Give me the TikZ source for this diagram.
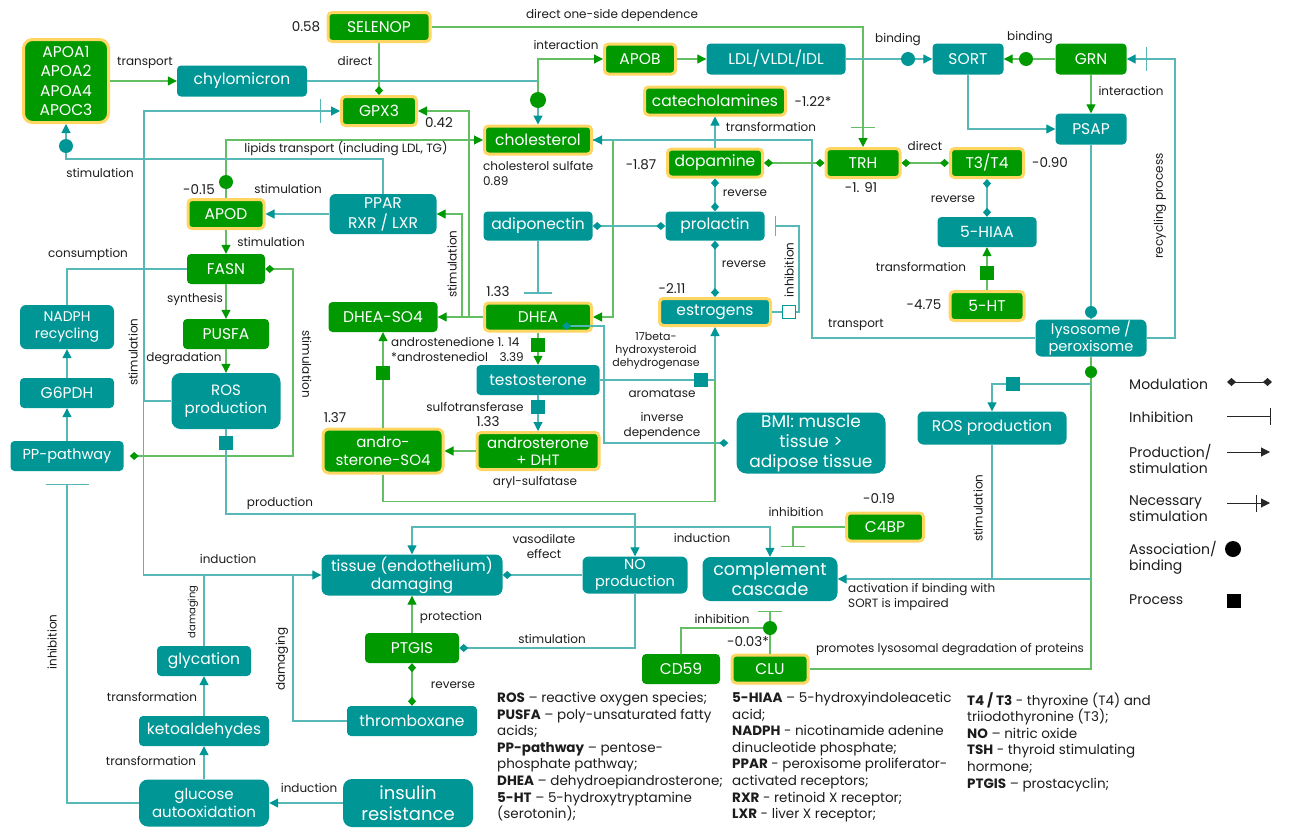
\documentclass[tikz,border=0pt]{standalone}
\usepackage{fontspec}
\setmainfont{Poppins}
\usetikzlibrary{arrows.meta}

\definecolor{tealF}{RGB}{0,150,150}
\definecolor{greenF}{RGB}{0,153,0}
\definecolor{tealL}{RGB}{88,184,184}
\definecolor{greenL}{RGB}{100,190,100}
\definecolor{yell}{RGB}{255,214,98}
\definecolor{txt}{RGB}{28,28,28}

\tikzstyle{box}=[rectangle,rounded corners=4pt,inner sep=0pt,text=white,align=center,font=\fontsize{15.5}{18.5}\selectfont]
\tikzstyle{tbox}=[box,fill=tealF]
\tikzstyle{gbox}=[box,fill=greenF]
\tikzstyle{ybox}=[gbox,draw=yell,line width=3pt]
\tikzstyle{ytbox}=[tbox,draw=yell,line width=3pt]
\tikzstyle{lab}=[text=txt,inner sep=0pt,align=center,font=\fontsize{12}{15}\selectfont]
\tikzstyle{num}=[text=txt,inner sep=0pt,font=\fontsize{13.5}{15}\selectfont]
\tikzstyle{leg}=[text=txt,inner sep=0pt,anchor=west,align=left,font=\fontsize{14}{16}\selectfont]
\tikzstyle{abbr}=[text=txt,inner sep=0pt,anchor=north west,align=left,font=\fontsize{13.5}{16.6}\selectfont]
\tikzstyle{tl}=[draw=tealL,line width=1.2pt]
\tikzstyle{gl}=[draw=greenL,line width=1.2pt]
\tikzstyle{blk}=[draw=black!85,line width=1pt]
\tikzstyle{ta}=[tl,-{Triangle[length=9pt,width=9pt,color=tealF]}]
\tikzstyle{ga}=[gl,-{Triangle[length=9pt,width=9pt,color=greenF]}]
\tikzstyle{tta}=[tl,{Triangle[length=9pt,width=9pt,color=tealF]}-{Triangle[length=9pt,width=9pt,color=tealF]}]
\tikzstyle{tdia}=[tl,-{Turned Square[length=9pt,width=8pt,color=tealF]}]
\tikzstyle{gdia}=[gl,-{Turned Square[length=9pt,width=8pt,color=greenF]}]
\tikzstyle{tdd}=[tl,{Turned Square[length=9pt,width=8pt,color=tealF]}-{Turned Square[length=9pt,width=8pt,color=tealF]}]
\tikzstyle{gdd}=[gl,{Turned Square[length=9pt,width=8pt,color=greenF]}-{Turned Square[length=9pt,width=8pt,color=greenF]}]
\tikzstyle{tnec}=[tl,-{Bar[width=24pt,sep=10pt]Triangle[length=9pt,width=9pt,color=tealF]}]
\tikzstyle{gnec}=[gl,-{Bar[width=24pt,sep=10pt]Triangle[length=9pt,width=9pt,color=greenF]}]
\tikzstyle{tinh}=[tl,-{Bar[width=28pt]},shorten >=8pt]
\tikzstyle{ginh}=[gl,-{Bar[width=24pt]},shorten >=10pt]
\tikzset{wh/.style 2 args={minimum width=#1,minimum height=#2}}

\begin{document}
\begin{tikzpicture}[x=1pt,y=-1pt]
\useasboundingbox (0,0) rectangle (1289,827);

\node[ybox,wh={85}{83},rounded corners=9pt,font=\fontsize{15.5}{19.3}\selectfont] (apoa) at (66,81) {APOA1\\APOA2\\APOA4\\APOC3};
\node[tbox,wh={130}{31}] (chylo) at (242,81) {chylomicron};
\node[ybox,wh={102}{29}] (selenop) at (379,27) {SELENOP};
\node[ybox,wh={75}{29}] (gpx3) at (379,111) {GPX3};
\node[ybox,wh={107}{28}] (chol) at (538,140) {cholesterol};
\node[ybox,wh={71}{30}] (apob) at (640,59) {APOB};
\node[tbox,wh={139}{31}] (ldl) at (776,59) {LDL/VLDL/IDL};
\node[tbox,wh={71}{31}] (sort) at (968,59) {SORT};
\node[gbox,wh={71}{31}] (grn) at (1091,59) {GRN};
\node[tbox,wh={71}{31}] (psap) at (1091,129) {PSAP};
\node[ybox,wh={141}{28}] (catechol) at (715,101) {catecholamines};
\node[ybox,wh={95}{28}] (dopa) at (715,163) {dopamine};
\node[ybox,wh={74}{29}] (trh) at (863,163) {TRH};
\node[ybox,wh={73}{29}] (t3t4) at (987,163) {T3/T4};
\node[tbox,wh={99}{30}] (hiaa) at (987,232) {5-HIAA};
\node[ybox,wh={74}{29}] (ht5) at (987,306) {5-HT};
\node[tbox,wh={99}{29}] (prol) at (715,226) {prolactin};
\node[ytbox,wh={111}{27}] (estro) at (715,312) {estrogens};
\node[tbox,wh={109}{29}] (adipo) at (538,226) {adiponectin};
\node[ybox,wh={107}{28}] (dhea) at (538,317) {DHEA};
\node[gbox,wh={109}{30}] (dheaso4) at (383,317) {DHEA-SO4};
\node[tbox,wh={123}{30}] (testo) at (538,380) {testosterone};
\node[ybox,wh={122}{37},font=\fontsize{15}{17}\selectfont] (adht) at (538,451) {androsterone\\+ DHT};
\node[ybox,wh={120}{44},rounded corners=6pt,font=\fontsize{15}{17.5}\selectfont] (aso4) at (383,451) {andro-\\sterone-SO4};
\node[tbox,wh={107}{40},rounded corners=6pt,font=\fontsize{15.5}{20}\selectfont] (ppar) at (383,214) {PPAR\\RXR / LXR};
\node[ybox,wh={76}{29}] (apod) at (226,214) {APOD};
\node[gbox,wh={78}{30}] (fasn) at (226,269) {FASN};
\node[gbox,wh={86}{30}] (pusfa) at (226,334) {PUSFA};
\node[tbox,wh={109}{56},rounded corners=9pt,font=\fontsize{15}{17.5}\selectfont] (rosL) at (226,401) {ROS\\production};
\node[tbox,wh={94}{44},rounded corners=6pt,font=\fontsize{14}{17}\selectfont] (nadph) at (67,327) {NADPH\\recycling};
\node[tbox,wh={94}{30}] (g6pdh) at (67,393) {G6PDH};
\node[tbox,wh={113}{30},font=\fontsize{14.5}{17}\selectfont] (pp) at (67,456) {PP-pathway};
\node[tbox,wh={111}{37},rounded corners=6pt,font=\fontsize{14.5}{17.5}\selectfont] (lyso) at (1091,338) {lysosome /\\peroxisome};
\node[tbox,wh={149}{33},rounded corners=6pt] (rosR) at (992,428) {ROS production};
\node[tbox,wh={149}{61},rounded corners=10pt,font=\fontsize{17}{20}\selectfont] (bmi) at (811,443) {BMI: muscle\\tissue >\\adipose tissue};
\node[ybox,wh={77}{28}] (c4bp) at (885,527) {C4BP};
\node[tbox,wh={135}{44},rounded corners=8pt,font=\fontsize{17.5}{20.5}\selectfont] (compl) at (770,579) {complement\\cascade};
\node[tbox,wh={105}{37},rounded corners=6pt,font=\fontsize{14.5}{17}\selectfont] (nopr) at (635,575) {NO\\production};
\node[tbox,wh={181}{41},rounded corners=7pt,font=\fontsize{15.5}{18}\selectfont] (tissue) at (412,575) {tissue (endothelium)\\damaging};
\node[gbox,wh={94}{30}] (ptgis) at (412,648) {PTGIS};
\node[tbox,wh={130}{30}] (thromb) at (412,721) {thromboxane};
\node[ybox,wh={76}{28}] (clu) at (770,669) {CLU};
\node[gbox,wh={78}{30}] (cd59) at (681,669) {CD59};
\node[tbox,wh={94}{30}] (glyc) at (204,661) {glycation};
\node[tbox,wh={130}{30}] (keto) at (204,731) {ketoaldehydes};
\node[tbox,wh={130}{47},rounded corners=9pt,font=\fontsize{15}{17.5}\selectfont] (gluc) at (204,803) {glucose\\autooxidation};
\node[tbox,wh={130}{48},rounded corners=9pt,font=\fontsize{18}{21}\selectfont] (insul) at (408,803) {insulin\\resistance};

\coordinate (dApoa) at (66,146);
\coordinate (dChol) at (538,100);
\coordinate (dApod) at (226,182);
\coordinate (dLdl) at (908,59);
\coordinate (dGrn) at (1026,59);
\coordinate (dPsap) at (1091,312);
\coordinate (dLyso) at (1091,372);
\coordinate (dClu) at (770,628);
\coordinate (jLyso) at (1091,384);
\coordinate (jCompl) at (1091,579);

\draw[ga] (apoa) -- (chylo);
\draw[ta] (chylo.east) -| (chol.north);
\draw[ga] (dChol) |- (apob.west);
\draw[gdia] (selenop) -- (gpx3);
\draw[gnec] (selenop.east) -| (trh.north);
\draw[tnec] (rosL.west) -| (144,111) -- (gpx3.west);
\draw[ta] ([xshift=-28pt]rosL.west) |- (tissue.west);
\draw[ga] (dhea.west) -| (469,111) -- (gpx3.east);
\draw[ga] (dhea.west) -| (462,214) -- (ppar.east);
\draw[ga] (dhea) -- (dheaso4);
\draw[ga] (chol.east) -| (613,317) -- (dhea.east);
\draw[ga] (apod.north) |- (chol.west);
\draw[ta] (ppar.north) |- (66,159) -- (apoa.south);
\draw[ta] (ppar) -- (apod);
\draw[ga] (apod) -- (fasn);
\draw[tl] (fasn.west) -| (nadph.north);
\draw[gdd,shorten >=6pt] (fasn.east) -| (293,456) -- (pp.east);
\draw[ga] (fasn) -- (pusfa);
\draw[ga] (pusfa) -- (rosL);
\draw[ta] (rosL.south) |- (635,514) -- (nopr.north);
\draw[ta] (g6pdh) -- (nadph);
\draw[ta] (pp) -- (g6pdh);
\draw[tl,-{Bar[width=43pt]},shorten >=13pt] (gluc.west) -| (pp.south);
\draw[ta] (gluc) -- (keto);
\draw[ta] (keto) -- (glyc);
\draw[tl] (glyc.north) -- (glyc.north |- tissue.west);
\draw[ta] (insul) -- (gluc);
\draw[tl] (thromb.west) -| (293,575);
\draw[tta] (tissue.north) |- (770,527) -- (compl.north);
\draw[tdia] (nopr) -- (tissue);
\draw[tdia] (nopr.south) |- (ptgis.east);
\draw[ga] (ptgis) -- (tissue);
\draw[gdd] (ptgis) -- (thromb);
\draw[ginh] (c4bp.west) -| ([xshift=23pt]compl.north);
\draw[ginh] (clu) -- (compl);
\draw[gl] (cd59.north) |- (dClu);
\draw[gl] (clu.east) -| (lyso.south);
\draw[ta] (jLyso) -| (rosR.north);
\draw[ta] (rosR.south) |- (compl.east);
\draw[tl] (jCompl) -- (rosR.south |- jCompl);
\draw[ta] (lyso.west) -| (812,140) -- (chol.east);
\draw[tnec] (lyso.east) -| (1175,59) -- (grn.east);
\draw[tl] (psap) -- (lyso);
\draw[ta] (sort.south) |- (psap.west);
\draw[ga] (grn) -- (psap);
\draw[ga] (grn) -- (sort);
\draw[ta] (ldl) -- (sort);
\draw[ga] (apob) -- (ldl);
\draw[ta] (dopa) -- (catechol);
\draw[gdd] (dopa) -- (trh);
\draw[gdd] (trh) -- (t3t4);
\draw[tdd] (t3t4) -- (hiaa);
\draw[ga] (ht5) -- (hiaa);
\draw[tdd] (dopa) -- (prol);
\draw[tdd] (prol) -- (estro);
\draw[tl,{Bar[width=20pt]}-,shorten <=10pt] (prol.east) -| (799,312) -- (estro.east);
\draw[tdd] (adipo) -- (prol);
\draw[tinh] (adipo) -- (dhea);
\draw[ga] (dhea) -- (testo);
\draw[tdd,shorten >=8pt] ([xshift=24pt,yshift=-9pt]dhea.center) -| (604,443) -- (bmi.west);
\draw[ta] (testo.east) -| (estro.south);
\draw[ta] (testo) -- (adht);
\draw[ga] (adht) -- (aso4);
\draw[ga] (aso4) -- (dheaso4);
\draw[gl] (aso4.south) |- ++(332,27) -- ++(0,-122);

\fill[tealF] (dApoa) circle[radius=7pt];
\fill[greenF] (dChol) circle[radius=8pt];
\fill[greenF] (dApod) circle[radius=7pt];
\fill[tealF] (dLdl) circle[radius=7pt];
\fill[greenF] (dGrn) circle[radius=7pt];
\fill[tealF] (dPsap) circle[radius=6pt];
\fill[greenF] (dLyso) circle[radius=6pt];
\fill[greenF] (dClu) circle[radius=7pt];
\fill[greenF] (531,338) rectangle (545,352);
\fill[tealF] (531,400) rectangle (545,414);
\fill[tealF] (694,373) rectangle (708,387);
\fill[greenF] (376,366) rectangle (390,380);
\fill[tealF] (219,436) rectangle (233,450);
\fill[greenF] (980,266) rectangle (994,280);
\fill[tealF] (1006,377) rectangle (1020,391);
\filldraw[fill=white,draw=tealF,line width=1.5pt] (782.5,305.5) rectangle (795.5,318.5);

\node[num] (vSelenop) at (306,27) {0.58};
\node[lab] (lTransport) at (145,63) {transport};
\node[lab] (lDirect) at (355,61) {direct};
\node[lab] (lOneSide) at (612,15) {direct one-side dependence};
\node[lab] (lInter) at (566,45) {interaction};
\node[lab] (lBind1) at (898,40) {binding};
\node[lab] (lBind2) at (1030,38) {binding};
\node[lab] (lInter2) at (1131,91) {interaction};
\node[num] (vGpx) at (439,123) {0.42};
\node[num] (vCat) at (813,102) {-1.22*};
\node[lab] (lTrans1) at (771,127) {transformation};
\node[lab] (lLipids) at (346,149) {lipids transport (including LDL, TG)};
\node[lab,anchor=north west,align=left,font=\fontsize{12}{15.5}\selectfont] (lCholS) at (483,161) {cholesterol sulfate\\0.89};
\node[lab] (lStimA) at (100,173) {stimulation};
\node[num] (vDopa) at (641,165) {-1.87};
\node[num] (vTrh) at (861,188) {-1. 91};
\node[lab] (lDirect2) at (925,146) {direct};
\node[num] (vT3) at (1050,163) {-0.90};
\node[num] (vApod) at (199,190) {-0.15};
\node[lab] (lStimB) at (288,189) {stimulation};
\node[lab] (lStimC) at (271,242) {stimulation};
\node[lab] (lCons) at (88,254) {consumption};
\node[lab] (lRev1) at (745,193) {reverse};
\node[lab] (lRev2) at (744,264) {reverse};
\node[lab] (lRev3) at (953,199) {reverse};
\node[lab] (lTrans2) at (921,267) {transformation};
\node[num] (vHt) at (924,305) {-4.75};
\node[lab] (lTransp) at (856,325) {transport};
\node[lab,rotate=90] (lRecyc) at (1160,206) {recycling process};
\node[lab,rotate=90] (lStimD) at (452,264) {stimulation};
\node[lab,rotate=90] (lInhProl) at (789,270) {inhibition};
\node[num] (vDhea) at (498,292) {1.33};
\node[num] (vEstro) at (672,289) {-2.11};
\node[lab] (lSynth) at (195,299) {synthesis};
\node[lab] (lDegr) at (184,359) {degradation};
\node[lab,rotate=90] (lStimE) at (133,352) {stimulation};
\node[lab,rotate=-90] (lStimF) at (307,364) {stimulation};
\node[lab,anchor=west] (lAndro1) at (391,342) {androstenedione 1. 14};
\node[lab,anchor=west] (lAndro2) at (391,357) {*androstenediol};
\node[lab,anchor=east] (vAndro) at (524,357) {3.39};
\node[lab,font=\fontsize{11}{12.8}\selectfont] (l17b) at (656,351) {17beta-\\hydroxysteroid\\dehydrogenase};
\node[lab] (lArom) at (662,393) {aromatase};
\node[lab] (lInv) at (662,426) {inverse\\dependence};
\node[lab] (lSulfo) at (475,407) {sulfotransferase};
\node[num] (vAdht) at (488,422) {1.33};
\node[num] (vAso4) at (335,418) {1.37};
\node[lab] (lAryl) at (535,482) {aryl-sulfatase};
\node[lab] (lProd) at (280,503) {production};
\node[num] (vC4bp) at (879,499) {-0.19};
\node[lab] (lInhC4) at (796,512) {inhibition};
\node[lab,rotate=90] (lStimG) at (978,508) {stimulation};
\node[lab] (lVaso) at (544,546) {vasodilate\\effect};
\node[lab] (lInd1) at (702,538) {induction};
\node[lab] (lInd2) at (228,559) {induction};
\node[lab,anchor=north west,align=left] (lAct) at (848,583) {activation if binding with\\SORT is impaired};
\node[lab] (lProt) at (451,617) {protection};
\node[lab] (lStimH) at (552,639) {stimulation};
\node[lab] (lInhCd) at (722,619) {inhibition};
\node[num] (vClu) at (748,642) {-0.03*};
\node[lab] (lProm) at (950,650) {promotes lysosomal degradation of proteins};
\node[lab,rotate=90,font=\fontsize{10}{12}\selectfont] (lDam1) at (193,612) {damaging};
\node[lab,rotate=90] (lDam2) at (282,659) {damaging};
\node[lab] (lRev4) at (453,685) {reverse};
\node[lab,rotate=90] (lInhPP) at (52,642) {inhibition};
\node[lab] (lTrans3) at (152,697) {transformation};
\node[lab] (lTrans4) at (151,761) {transformation};
\node[lab] (lInd3) at (309,788) {induction};

\node[leg] (gMod) at (1129,384) {Modulation};
\node[leg] (gInh) at (1129,417) {Inhibition};
\node[leg] (gProd) at (1129,459) {Production/\\stimulation};
\node[leg] (gNec) at (1129,509) {Necessary\\stimulation};
\node[leg] (gAss) at (1129,558) {Association/\\binding};
\node[leg] (gProc) at (1129,600) {Process};
\draw[blk,{Turned Square[length=9pt,width=8pt]}-{Turned Square[length=9pt,width=8pt]}] (1227,382) -- (1272,382);
\draw[blk,-{Bar[width=17pt]}] (1227,416) -- (1271,416);
\draw[blk,-{Triangle[length=9pt,width=9pt]}] (1227,452) -- (1270,452);
\draw[blk,-{Bar[width=17pt,sep=4pt]Triangle[length=9pt,width=9pt]}] (1227,503) -- (1270,503);
\fill[black] (1233,549) circle[radius=8pt];
\fill[black] (1227,594) rectangle (1241,608);

\node[abbr] (abbrA) at (497,692) {\textbf{ROS} – reactive oxygen species;\\\textbf{PUSFA} – poly-unsaturated fatty\\acids;\\\textbf{PP-pathway} – pentose-\\phosphate pathway;\\\textbf{DHEA} – dehydroepiandrosterone;\\\textbf{5-HT} – 5-hydroxytryptamine\\(serotonin);};
\node[abbr] (abbrB) at (732,692) {\textbf{5-HIAA} – 5-hydroxyindoleacetic\\acid;\\\textbf{NADPH} - nicotinamide adenine\\dinucleotide phosphate;\\\textbf{PPAR} - peroxisome proliferator-\\activated receptors;\\\textbf{RXR} - retinoid X receptor;\\\textbf{LXR} - liver X receptor;};
\node[abbr] (abbrC) at (967,692) {\textbf{T4 / T3} - thyroxine (T4) and\\triiodothyronine (T3);\\\textbf{NO} – nitric oxide\\\textbf{TSH} - thyroid stimulating\\hormone;\\\textbf{PTGIS} – prostacyclin;};
\end{tikzpicture}
\end{document}
